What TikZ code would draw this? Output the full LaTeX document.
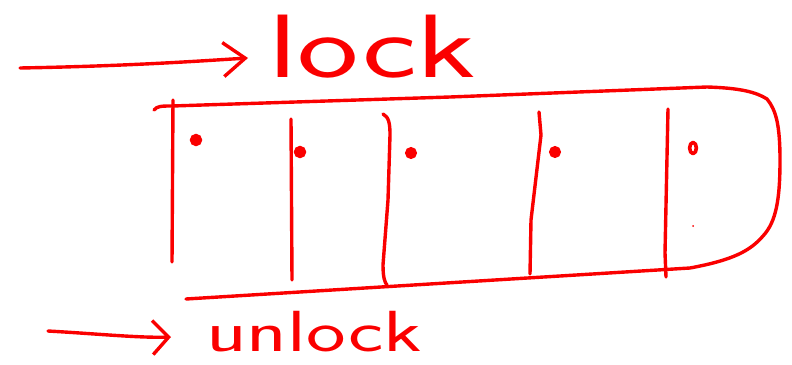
\documentclass[tikz,border=0pt]{standalone}
\usepackage{fontspec}
\usepackage{tikz}
\usetikzlibrary{arrows.meta,calc}
\usepackage{xcolor}
\newcommand\handfont{\sffamily}
\definecolor{marker}{RGB}{250,0,0}
\tikzset{ink/.style={draw=marker,line width=3.4pt,line cap=round,line join=round},
  blot/.style={draw=marker,fill=marker,line width=2pt}}

\begin{document}
\begin{tikzpicture}[x=1pt,y=-1pt,
  word/.style={text=marker,inner sep=0pt,anchor=base west}]
\useasboundingbox (0,0) rectangle (792,364);
\node[word,xscale=1.45,font=\handfont\fontsize{90}{90}\selectfont]
  (lock) at (268,77) {lock};
\node[word,xscale=1.45,font=\handfont\fontsize{58}{58}\selectfont]
  (unlock) at (206,351) {unlock};
\coordinate (lockfrom) at (20,68);
\coordinate (unlockfrom) at (48,331);
\draw[ink,-{Straight Barb[length=22pt,width=34pt]}] (lockfrom)
  .. controls (130,66) and (200,61) .. ($(lock.base west)+(-20,-19)$);
\draw[ink,-{Straight Barb[length=16pt,width=34pt]}] (unlockfrom)
  .. controls (100,334) and (140,338) .. ($(unlock.base west)+(-35,-14)$);
\draw[ink] (154,110) .. controls (157,106) and (162,106) .. (172,106)
  -- (450,97) -- (707,87)
  .. controls (740,88) and (756,92) .. (767,99)
  .. controls (776,110) and (780,125) .. (780,160)
  .. controls (780,200) and (776,222) .. (763,236)
  .. controls (750,251) and (733,260) .. (690,268) -- (186,299);
\draw[ink] (173,100) -- (172,262);
\draw[ink] (291,119) -- (292,280);
\draw[ink] (383,114) .. controls (389,117) and (390,124) .. (390,135)
  -- (388,200) -- (383,265) .. controls (383,278) and (385,283) .. (387,285);
\draw[ink] (539,112) -- (541,135) -- (531,220) -- (530,274);
\draw[ink] (668,109) -- (665,253) -- (666,277);
\filldraw[blot] (196,140) circle[radius=5.2pt];
\filldraw[blot] (300,152) circle[radius=5.2pt];
\filldraw[blot] (411,153) circle[radius=5pt];
\filldraw[blot] (555,152) circle[radius=5pt];
\draw[ink,line width=3.6pt] (693,148) ellipse[x radius=3.4pt,y radius=5.6pt];
\fill[marker] (693,226) circle[radius=1pt];
\end{tikzpicture}
\end{document}
